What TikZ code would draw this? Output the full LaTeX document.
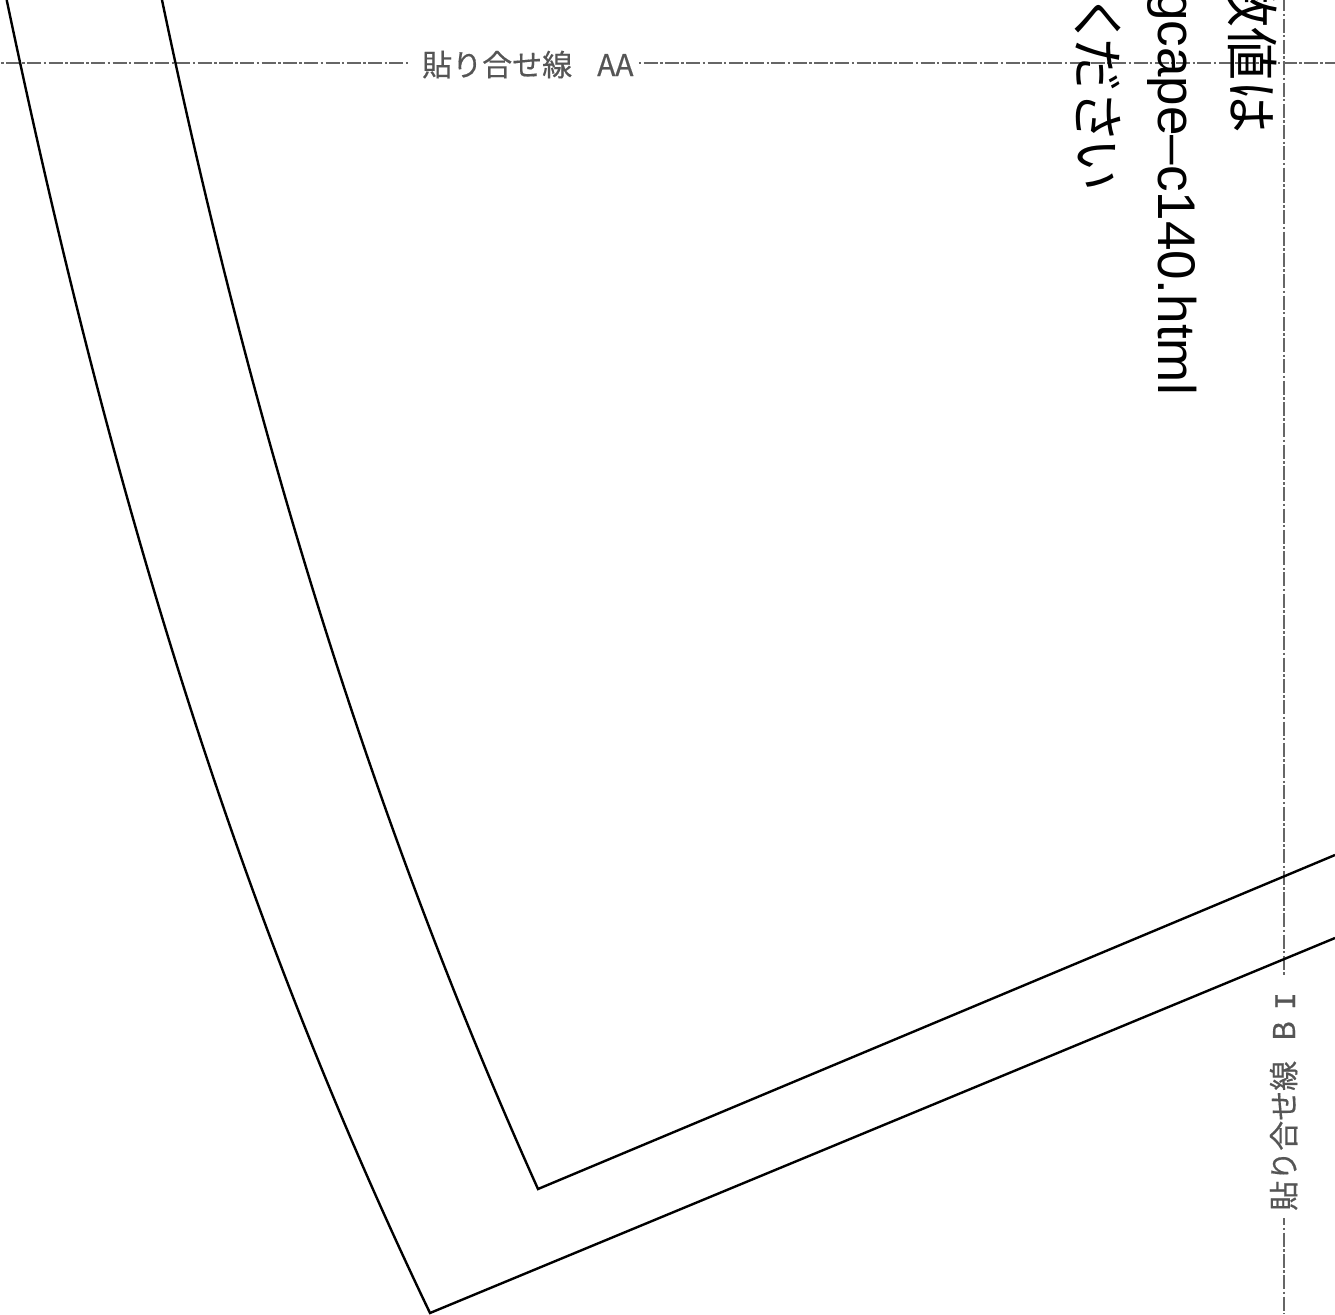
\documentclass[tikz,border=0pt]{standalone}
\usepackage{fontspec}
\setmainfont{Noto Sans CJK JP}[FakeBold=0.4]
\newfontfamily\monofont{Liberation Mono}[FakeBold=0.4]
\newfontfamily\notekana{Noto Sans CJK JP}[RawFeature=+palt]
\newfontfamily\notelatin{Liberation Sans}
\definecolor{foldgray}{HTML}{666666}
\definecolor{labelgray}{HTML}{555555}
\tikzset{
  foldline/.style={foldgray, line width=2.2pt, dash pattern=on 14pt off 2.4pt on 2.5pt off 2.4pt},
  foldlabel/.style={labelgray, font=\fontsize{30}{30}\selectfont, inner sep=0pt},
  cutline/.style={black, line width=2.4pt, line join=miter},
  notetext/.style={black, fontsize=53, rotate=-90, inner sep=0pt, anchor=base west},
  fontsize/.style={font=\fontsize{#1}{#1}\selectfont}
}
\begin{document}
\begin{tikzpicture}[x=1pt, y=-1pt]

\clip (0,0) rectangle (1335,1314);
\useasboundingbox (0,0) rectangle (1335,1314);
\fill[white] (0,0) rectangle (1335,1314);

% labels
\node[foldlabel, anchor=base west] (labelaa) at (422,76) {貼り合せ線\hspace{25pt}AA};
\node[foldlabel, anchor=base west, rotate=90] (labelbi) at (1295,1211) {貼り合せ線\hspace{20pt}B\hspace{11pt}{\monofont I}};

\coordinate (aaleft) at (0,63);
\coordinate (aaright) at (1335,63);
\coordinate (bitop) at (1284,0);
\coordinate (bibottom) at (1284,1314);

% fold lines
\draw[foldline, dash phase=15.3pt] (aaleft) -- ([xshift=-12pt]labelaa.west |- aaleft);
\draw[foldline, dash phase=16.3pt] ([xshift=5pt]labelaa.east |- aaleft) -- (aaright);
\draw[foldline, dash phase=2.7pt] (bitop) -- ([yshift=15pt]labelbi.east -| bitop);
\draw[foldline, dash phase=6.6pt] ([yshift=-7pt]labelbi.west -| bitop) -- (bibottom);

% note text
\node[notetext] (noteone) at (1232,-26) {\notekana 数値は};
\node[notetext] (notetwo) at (1158,-9) {\notelatin gcape–c140.html};
\node[notetext] (notethree) at (1078,2) {\notekana ください};

% outer sheet
\draw[cutline] (6.7,0) .. controls (98.7,438) and (220,875) .. (430,1313) -- (1335,938);

% inner sheet
\draw[cutline] (162,0) .. controls (245,396) and (360,793) .. (538,1189) -- (1335,855);

\end{tikzpicture}
\end{document}
